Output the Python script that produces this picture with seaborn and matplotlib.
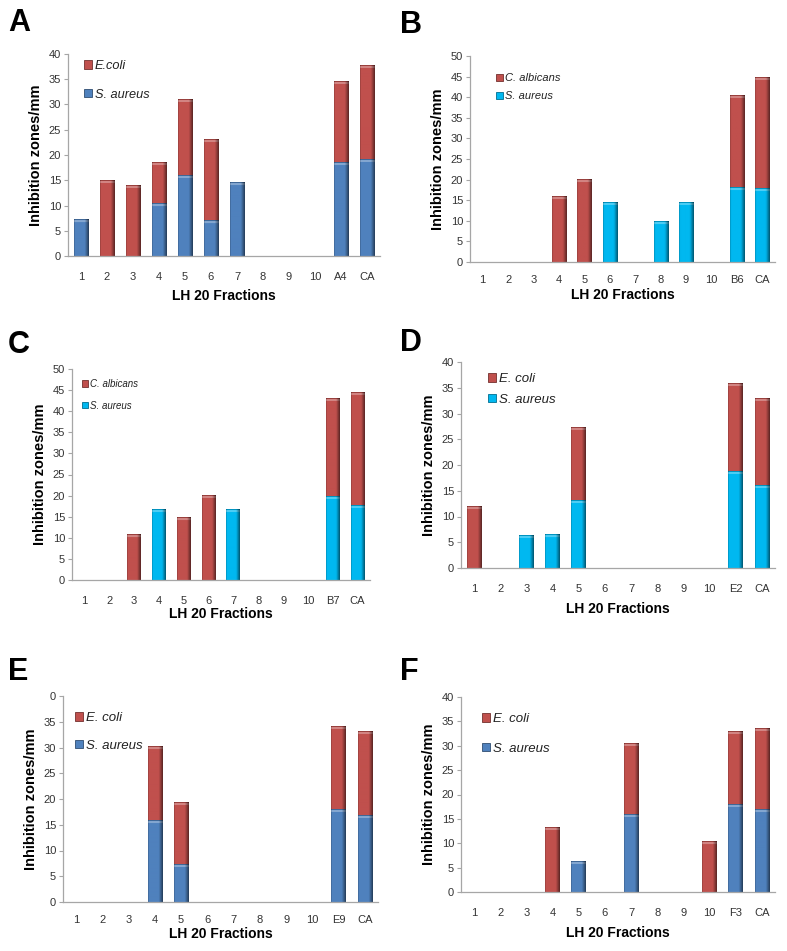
import numpy as np
import pandas as pd
import matplotlib
matplotlib.use("Agg")
import matplotlib.pyplot as plt
import seaborn as sns
from matplotlib.patches import Patch

sns.set_style("white")
plt.rcParams['font.family'] = ['Liberation Sans', 'DejaVu Sans']

RED = "#C0504D"
BLUE = "#4F81BD"
CYAN = "#00B8F0"

base = ["1", "2", "3", "4", "5", "6", "7", "8", "9", "10"]
cats_A = base + ["A4", "CA"]
cats_B = base + ["B6", "CA"]
cats_C = base + ["B7", "CA"]
cats_D = base + ["E2", "CA"]
cats_E = base + ["E9", "CA"]
cats_F = base + ["F3", "CA"]

# Panel A
A_saureus = [7.2, 0, 0, 10.3, 16.0, 7.0, 14.5, 0, 0, 0, 18.5, 19.2]
A_ecoli = [0, 15.0, 14.0, 8.2, 15.0, 16.0, 0, 0, 0, 0, 16.0, 18.5]
# Panel B
B_saureus = [0, 0, 0, 0, 0, 14.5, 0, 9.8, 14.5, 0, 18.0, 17.8]
B_calbicans = [0, 0, 0, 15.8, 20.0, 0, 0, 0, 0, 0, 22.3, 27.0]
# Panel C
C_saureus = [0, 0, 0, 16.6, 0, 0, 16.6, 0, 0, 0, 19.8, 17.7]
C_calbicans = [0, 0, 10.7, 0, 14.7, 20.1, 0, 0, 0, 0, 23.2, 26.8]
# Panel D
D_saureus = [0, 0, 6.4, 6.5, 13.2, 0, 0, 0, 0, 0, 18.8, 16.1]
D_ecoli = [12.0, 0, 0, 0, 14.1, 0, 0, 0, 0, 0, 17.1, 16.9]
# Panel E
E_saureus = [0, 0, 0, 15.8, 7.3, 0, 0, 0, 0, 0, 18.0, 16.8]
E_ecoli = [0, 0, 0, 14.3, 12.0, 0, 0, 0, 0, 0, 16.1, 16.3]
# Panel F
F_saureus = [0, 0, 0, 0, 6.3, 0, 16.0, 0, 0, 0, 18.0, 16.9]
F_ecoli = [0, 0, 0, 13.3, 0, 0, 14.5, 0, 0, 10.3, 15.0, 16.7]

yticks_40 = [0, 5, 10, 15, 20, 25, 30, 35, 40]
yticks_50 = [0, 5, 10, 15, 20, 25, 30, 35, 40, 45, 50]
ylabels_E = ["0", "5", "10", "15", "20", "25", "30", "35", "0"]

fig = plt.figure(figsize=(7.87, 9.51), dpi=100)


def darker(c, f=0.6):
    r, g, b = matplotlib.colors.to_rgb(c)
    return (r * f, g * f, b * f)


def shade_patches(ax, patches, z):
    """Give each seaborn bar an Excel-like 3D look (dark right side, light top)."""
    for p in patches:
        h = p.get_height()
        if not np.isfinite(h) or h <= 0:
            continue
        x0, y0, w = p.get_x(), p.get_y(), p.get_width()
        col = np.array(matplotlib.colors.to_rgb(p.get_facecolor()))
        (px0, py0), (px1, py1) = ax.transData.transform([(x0, y0), (x0 + w, y0 + h)])
        nh = max(int(round(py1 - py0)), 2)
        nw = max(int(round(px1 - px0)), 2)
        t = (np.arange(nw) + 0.5) / nw
        fac = np.ones(nw)
        fac[t < 0.1] = 0.85
        right = t > 0.72
        fac[right] = 1 - (t[right] - 0.72) / 0.28 * 0.55
        img = np.tile(col, (nh, nw, 1))
        img[1:3] = img[1:3] * 0.7 + 0.3
        img = img * fac[None, :, None]
        img[0] = img[0] * 0.8
        img = np.clip(img, 0, 1)
        p.set_zorder(z)
        ax.imshow(img, extent=[x0, x0 + w, y0, y0 + h], aspect="auto",
                  origin="upper", interpolation="bilinear", zorder=z + 0.1)


def panel(rect, cats, bottom_vals, top_vals, bottom_name, top_name, bcol,
          yt, ytl, letter, letter_xy, leg_xy, leg_fs, leg_sp, xlab_pad, tick_pad):
    ax = fig.add_axes(rect)
    df = pd.DataFrame({"cat": cats,
                       "bottom": bottom_vals,
                       "total": np.array(bottom_vals) + np.array(top_vals)})
    df = df.replace(0, np.nan)
    sns.barplot(data=df, x="cat", y="total", order=cats, color=RED,
                saturation=1, width=0.56, linewidth=0, ax=ax)
    n_red = len(ax.patches)
    sns.barplot(data=df, x="cat", y="bottom", order=cats, color=bcol,
                saturation=1, width=0.56, linewidth=0, ax=ax)
    ax.set_xlim(-0.5, len(cats) - 0.5)
    ax.set_ylim(yt[0], yt[-1])
    pats = list(ax.patches)
    shade_patches(ax, pats[:n_red], 2)
    shade_patches(ax, pats[n_red:], 3)
    ax.set_xlim(-0.5, len(cats) - 0.5)
    ax.set_ylim(yt[0], yt[-1])
    ax.set_yticks(yt)
    ax.set_yticklabels(ytl if ytl is not None else [str(v) for v in yt])
    for s in ["top", "right"]:
        ax.spines[s].set_visible(False)
    for s in ["left", "bottom"]:
        ax.spines[s].set_color("#A6A6A6")
        ax.spines[s].set_linewidth(0.9)
        ax.spines[s].set_zorder(5)
    ax.tick_params(axis="y", left=True, length=3, color="#A6A6A6",
                   labelsize=8, labelcolor="#333333", pad=2)
    ax.tick_params(axis="x", bottom=False, labelsize=8, labelcolor="#333333",
                   pad=tick_pad)
    ax.set_xlabel("LH 20 Fractions", fontsize=10, fontweight="bold",
                  labelpad=xlab_pad, color="black")
    ax.set_ylabel("Inhibition zones/mm", fontsize=10.5, fontweight="bold",
                  labelpad=4, color="black")
    ax.grid(False)
    handles = [Patch(facecolor=RED, edgecolor=darker(RED), linewidth=0.6),
               Patch(facecolor=bcol, edgecolor=darker(bcol), linewidth=0.6)]
    leg = ax.legend(handles, [top_name, bottom_name], loc="upper left",
                    bbox_to_anchor=leg_xy, bbox_transform=fig.transFigure,
                    frameon=False, borderpad=0, borderaxespad=0,
                    handlelength=0.6, handleheight=0.6, handletextpad=0.25,
                    labelspacing=leg_sp, prop={"size": leg_fs, "style": "italic"})
    for tx in leg.get_texts():
        tx.set_color("#222222")
    fig.text(letter_xy[0], letter_xy[1], letter, fontsize=22,
             fontweight="bold", ha="left", va="center", color="black")
    return ax


W, H = 787.0, 951.0


def r(l, b, rgt, t):
    return [l / W, 1 - b / H, (rgt - l) / W, (b - t) / H]


panel(r(68, 256, 380, 54), cats_A, A_saureus, A_ecoli, "S. aureus", "E.coli",
      BLUE, yticks_40, None, "A", (8 / W, 1 - 23 / H),
      (84 / W, 1 - 60 / H), 9.2, 1.3, 5, 8)
panel(r(470, 262, 775, 56), cats_B, B_saureus, B_calbicans, "S. aureus",
      "C. albicans", CYAN, yticks_50, None, "B", (400 / W, 1 - 25 / H),
      (496 / W, 1 - 73 / H), 8, 0.75, 2, 6)
panel(r(72, 580, 370, 369), cats_C, C_saureus, C_calbicans, "S. aureus",
      "C. albicans", CYAN, yticks_50, None, "C", (8 / W, 1 - 345 / H),
      (82 / W, 1 - 379 / H), 7, 1.2, 1, 8)
panel(r(461, 568, 775, 362), cats_D, D_saureus, D_ecoli, "S. aureus",
      "E. coli", CYAN, yticks_40, None, "D", (400 / W, 1 - 343 / H),
      (488 / W, 1 - 373 / H), 9.5, 0.65, 6, 8)
panel(r(63, 902, 378, 696), cats_E, E_saureus, E_ecoli, "S. aureus",
      "E. coli", BLUE, yticks_40, ylabels_E, "E", (8 / W, 1 - 672 / H),
      (75 / W, 1 - 712 / H), 9.5, 1.2, 1, 6)
panel(r(461, 892, 775, 697), cats_F, F_saureus, F_ecoli, "S. aureus",
      "E. coli", BLUE, yticks_40, None, "F", (400 / W, 1 - 672 / H),
      (482 / W, 1 - 713 / H), 9.5, 1.35, 6, 8)

fig.savefig("out.png", dpi=100)
